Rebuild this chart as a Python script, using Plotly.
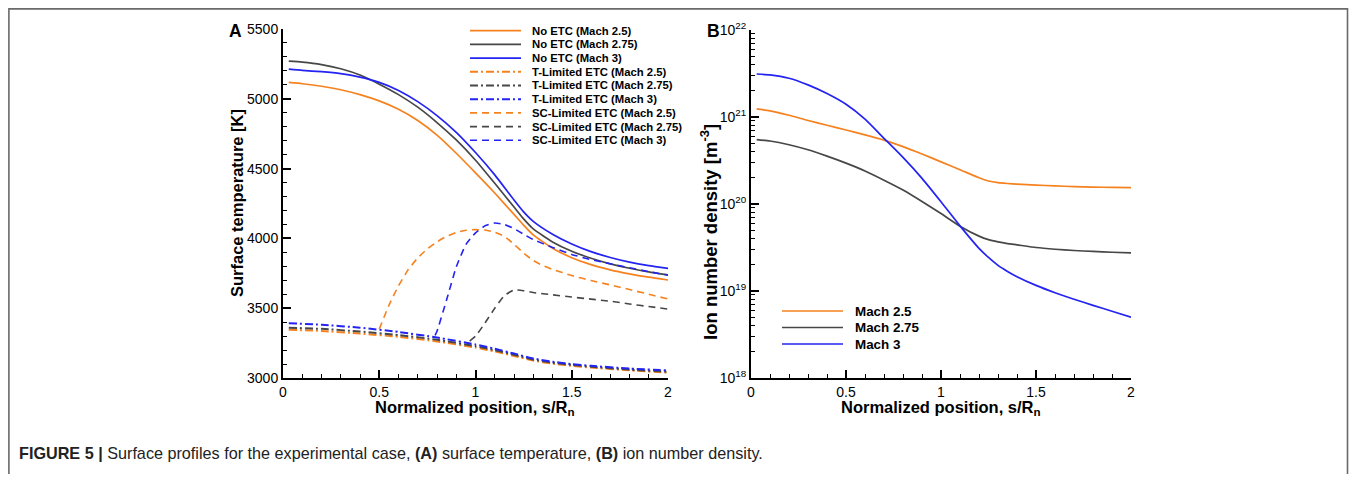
import plotly.graph_objects as go

# ---------------- data ----------------
# Panel A: surface temperature [K] vs normalized position s/Rn
s_no = [0.03, 0.1, 0.2, 0.3, 0.4, 0.5, 0.6, 0.7, 0.8, 0.9, 1.0, 1.1, 1.2, 1.25, 1.3, 1.4, 1.5, 1.6, 1.7, 1.8, 1.9, 2.0]
T_no_25 = [5117, 5108, 5090, 5065, 5030, 4985, 4925, 4845, 4740, 4610, 4470, 4325, 4172, 4095, 4025, 3930, 3862, 3812, 3775, 3746, 3722, 3702]
T_no_275 = [5270, 5263, 5245, 5215, 5170, 5105, 5030, 4940, 4830, 4705, 4560, 4395, 4225, 4140, 4068, 3975, 3908, 3858, 3818, 3786, 3760, 3738]
T_no_3 = [5212, 5203, 5194, 5180, 5155, 5118, 5060, 4980, 4880, 4760, 4615, 4455, 4275, 4190, 4122, 4030, 3960, 3905, 3863, 3830, 3805, 3785]

s_tl = [0.03, 0.2, 0.4, 0.6, 0.8, 1.0, 1.1, 1.2, 1.3, 1.4, 1.5, 1.6, 1.8, 2.0]
T_tl_25 = [3345, 3337, 3318, 3295, 3262, 3218, 3190, 3158, 3125, 3103, 3088, 3075, 3055, 3038]
T_tl_275 = [3360, 3352, 3333, 3308, 3274, 3228, 3200, 3167, 3132, 3110, 3094, 3081, 3060, 3045]
T_tl_3 = [3392, 3382, 3360, 3330, 3290, 3240, 3210, 3175, 3140, 3117, 3100, 3087, 3068, 3055]

s_sc_25 = [0.5, 0.55, 0.6, 0.65, 0.7, 0.75, 0.8, 0.85, 0.9, 0.95, 1.0, 1.05, 1.1, 1.15, 1.2, 1.25, 1.3, 1.35, 1.4,
           1.5, 1.6, 1.7, 1.8, 1.9, 2.0]
T_sc_25 = [3350, 3520, 3660, 3775, 3860, 3925, 3975, 4015, 4042, 4058, 4063, 4060, 4045, 4015, 3958, 3895, 3842, 3805,
           3778, 3734, 3698, 3667, 3634, 3600, 3566]
s_sc_275 = [0.97, 1.0, 1.05, 1.1, 1.15, 1.2, 1.25, 1.3, 1.4, 1.5, 1.6, 1.7, 1.8, 1.9, 2.0]
T_sc_275 = [3265, 3300, 3395, 3500, 3590, 3630, 3625, 3612, 3596, 3580, 3565, 3550, 3530, 3512, 3494]
s_sc_3 = [0.79, 0.8, 0.85, 0.9, 0.95, 1.0, 1.05, 1.1, 1.15, 1.2, 1.25, 1.3, 1.4, 1.5, 1.6, 1.7, 1.8, 1.9, 2.0]
T_sc_3 = [3305, 3335, 3560, 3795, 3955, 4040, 4090, 4110, 4100, 4070, 4030, 3992, 3935, 3885, 3848, 3818, 3790, 3762, 3736]

# Panel B: ion number density [m^-3]
s_b = [0.03, 0.1, 0.2, 0.3, 0.4, 0.5, 0.6, 0.7, 0.8, 0.9, 1.0, 1.1, 1.2, 1.25, 1.3, 1.35, 1.4, 1.5, 1.6, 1.7, 1.8,
       1.9, 2.0]
n_25 = [1.24e21, 1.175e21, 1.047e21, 9.12e20, 8.04e20, 7.08e20, 6.24e20, 5.43e20, 4.57e20, 3.76e20, 3.05e20, 2.48e20,
        2.0e20, 1.84e20, 1.76e20, 1.72e20, 1.69e20, 1.65e20, 1.615e20, 1.585e20, 1.567e20, 1.55e20, 1.54e20]
n_275 = [5.5e20, 5.3e20, 4.8e20, 4.2e20, 3.55e20, 2.95e20, 2.4e20, 1.88e20, 1.45e20, 1.07e20, 7.76e19, 5.56e19,
         4.27e19, 3.89e19, 3.67e19, 3.51e19, 3.39e19, 3.16e19, 3.02e19, 2.92e19, 2.85e19, 2.79e19, 2.75e19]
n_3 = [3.12e21, 3.05e21, 2.79e21, 2.34e21, 1.86e21, 1.40e21, 9.44e20, 5.69e20, 3.43e20, 1.97e20, 1.06e20, 5.6e19,
       3.09e19, 2.43e19, 1.97e19, 1.68e19, 1.46e19, 1.16e19, 9.55e18, 8.04e18, 6.84e18, 5.85e18, 5.0e18]

legend_a = ["No ETC (Mach 2.5)", "No ETC (Mach 2.75)", "No ETC (Mach 3)",
            "T-Limited ETC (Mach 2.5)", "T-Limited ETC (Mach 2.75)", "T-Limited ETC (Mach 3)",
            "SC-Limited ETC (Mach 2.5)", "SC-Limited ETC (Mach 2.75)", "SC-Limited ETC (Mach 3)"]
legend_b = ["Mach 2.5", "Mach 2.75", "Mach 3"]
x_ticks = [0, 0.5, 1, 1.5, 2]
yA_ticks = [3000, 3500, 4000, 4500, 5000, 5500]
yB_exps = [18, 19, 20, 21, 22]

# ---------------- style ----------------
# page body keeps its default 8px margin, so the figure is 16px smaller than the window
OFF = 8
W, H = 1357 - 2 * OFF, 482 - 2 * OFF
ORANGE, GREY, BLUE = "#F5821F", "#474747", "#2323F2"
FONT = "Liberation Sans, Arial, Helvetica, sans-serif"
DASH = "7px,5px"
DASHDOT = "8px,3px,2px,3px"


def px(x):
    return (x - OFF) / W


def py(y):
    return 1 - (y - OFF) / H


fig = go.Figure()

series_a = [
    (s_no, T_no_25, ORANGE, "solid", 1.7), (s_no, T_no_275, GREY, "solid", 1.7), (s_no, T_no_3, BLUE, "solid", 1.7),
    (s_tl, T_tl_25, ORANGE, DASHDOT, 2.0), (s_tl, T_tl_275, GREY, DASHDOT, 2.0), (s_tl, T_tl_3, BLUE, DASHDOT, 2.0),
    (s_sc_25, T_sc_25, ORANGE, DASH, 1.6), (s_sc_275, T_sc_275, GREY, DASH, 1.6), (s_sc_3, T_sc_3, BLUE, DASH, 1.6),
]
for (xs, ys, c, d, w), name in zip(series_a, legend_a):
    fig.add_trace(go.Scatter(x=xs, y=ys, mode="lines", name=name, showlegend=False,
                             line=dict(color=c, dash=d, width=w, shape="spline", smoothing=0.5),
                             xaxis="x", yaxis="y"))

for ys, c, name in zip([n_25, n_275, n_3], [ORANGE, GREY, BLUE], legend_b):
    fig.add_trace(go.Scatter(x=s_b, y=ys, mode="lines", name=name, showlegend=False,
                             line=dict(color=c, width=1.7, shape="spline", smoothing=0.5),
                             xaxis="x2", yaxis="y2"))

tickfont = dict(family=FONT, size=14, color="black")
common = dict(showline=True, linecolor="black", linewidth=2, ticks="inside", ticklen=8, tickwidth=1.5,
              tickcolor="black", showgrid=False, zeroline=False, tickfont=tickfont, mirror=False,
              automargin=False)
minor_lin = dict(ticks="inside", ticklen=4, tickwidth=1, tickcolor="black")

fig.update_layout(
    width=W, height=H, autosize=False,
    margin=dict(l=0, r=0, t=0, b=0, pad=0, autoexpand=False),
    paper_bgcolor="white", plot_bgcolor="white",
    showlegend=False,
    xaxis=dict(domain=[px(283), px(668)], range=[0, 2], anchor="y", tickvals=x_ticks,
               ticktext=[f"{v:g}" for v in x_ticks], minor=dict(dtick=0.1, **minor_lin), **common),
    yaxis=dict(domain=[py(378), py(29)], range=[3000, 5500], anchor="x", tickvals=yA_ticks,
               minor=dict(dtick=100, **minor_lin), **common),
    xaxis2=dict(domain=[px(751), px(1131)], range=[0, 2], anchor="y2", tickvals=x_ticks,
                ticktext=[f"{v:g}" for v in x_ticks], minor=dict(dtick=0.1, **minor_lin), **common),
    yaxis2=dict(domain=[py(378), py(30)], type="log", range=[18, 22], anchor="x2",
                tickvals=[10.0 ** e for e in yB_exps],
                ticktext=[f"10<sup>{e}</sup>" for e in yB_exps],
                minor=dict(tickmode="array",
                           tickvals=[float(k) * 10.0 ** e for e in yB_exps[:-1] for k in range(2, 10)],
                           **minor_lin), **common),
)

ann = []
shapes = []

# panel letters
for letter, lx in [("A", 235), ("B", 713)]:
    ann.append(dict(text=f"<b>{letter}</b>", x=px(lx), y=py(31), xref="paper", yref="paper", showarrow=False,
                    font=dict(family=FONT, size=17.5, color="black"), xanchor="center", yanchor="middle"))

# axis titles
title_font = dict(family=FONT, size=16.5, color="black")
for cx in [475, 941]:
    ann.append(dict(text="<b>Normalized position, s/R<sub>n</sub></b>", x=px(cx), y=py(408), xref="paper",
                    yref="paper", showarrow=False, font=title_font, xanchor="center", yanchor="middle"))
ann.append(dict(text="<b>Surface temperature [K]</b>", x=px(237), y=py(203), xref="paper", yref="paper",
                showarrow=False, font=title_font, textangle=-90, xanchor="center", yanchor="middle"))
ann.append(dict(text="<b>Ion number density [m<sup>-3</sup>]</b>", x=px(709), y=py(232), xref="paper",
                yref="paper", showarrow=False, font=dict(family=FONT, size=18.5, color="black"),
                textangle=-90, xanchor="center", yanchor="middle"))

# legend A (compact, drawn as line samples + labels)
for i, (name, (_, _, c, d, w)) in enumerate(zip(legend_a, series_a)):
    yy = 30.7 + 13.7 * i
    shapes.append(dict(type="line", xref="paper", yref="paper", x0=px(470), x1=px(521), y0=py(yy), y1=py(yy),
                       line=dict(color=c, dash=d, width=w)))
    ann.append(dict(text=f"<b>{name}</b>", x=px(530), y=py(yy), xref="paper", yref="paper", showarrow=False,
                    font=dict(family=FONT, size=11.3, color="black"), xanchor="left", yanchor="middle"))

# legend B
for i, (name, c) in enumerate(zip(legend_b, [ORANGE, GREY, BLUE])):
    yy = 311 + 16.5 * i
    shapes.append(dict(type="line", xref="paper", yref="paper", x0=px(782), x1=px(843), y0=py(yy), y1=py(yy),
                       line=dict(color=c, width=1.7)))
    ann.append(dict(text=f"<b>{name}</b>", x=px(853), y=py(yy), xref="paper", yref="paper", showarrow=False,
                    font=dict(family=FONT, size=13.4, color="black"), xanchor="left", yanchor="middle"))

# caption
ann.append(dict(text="<b>FIGURE 5 |</b> Surface profiles for the experimental case, <b>(A)</b> surface temperature, "
                     "<b>(B)</b> ion number density.",
                x=px(17), y=py(453), xref="paper", yref="paper", showarrow=False,
                font=dict(family=FONT, size=16.2, color="#222"), xanchor="left", yanchor="middle"))

# frame
shapes.append(dict(type="rect", xref="paper", yref="paper", x0=px(8.9), x1=px(1347.5), y0=-0.2, y1=py(8.9),
                   line=dict(color="#6a6a6a", width=1.6), fillcolor="rgba(0,0,0,0)", layer="below"))

fig.update_layout(annotations=ann, shapes=shapes)

fig.write_html("out.html", config={"displayModeBar": False})
